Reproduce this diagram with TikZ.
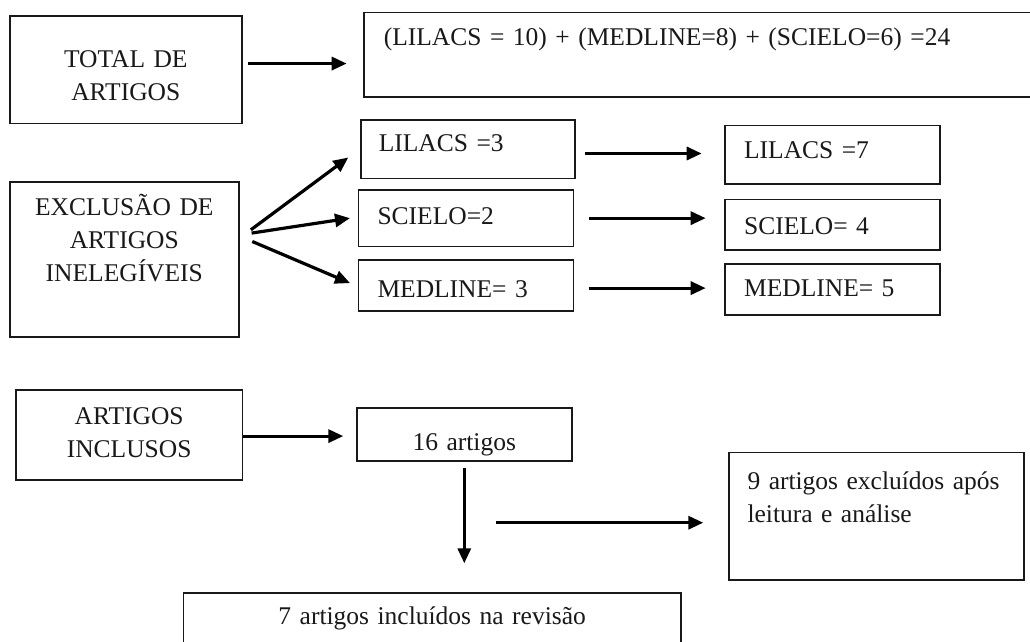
\documentclass[tikz,border=0pt]{standalone}
\usepackage{fontspec}
\setmainfont{Liberation Serif}
\usetikzlibrary{arrows.meta}
\tikzset{
  caixa/.style={draw=black!90, line width=1.6pt, inner ysep=0pt, anchor=north west, text=black!90},
  seta/.style={line width=3.2pt, -{Triangle[length=15pt,width=13pt]}}
}

\begin{document}
\begin{tikzpicture}[x=1pt, y=-1pt, font=\fontsize{25.5}{33}\selectfont]
\useasboundingbox (0,0) rectangle (1030,642);
\fill[white] (0,0) rectangle (1030,642);
\node[caixa, inner xsep=10pt, text width=212pt, text height=51.7pt, text depth=55.8pt, align=center] (total) at (9,15) {TOTAL DE\\ARTIGOS};
\node[caixa, inner xsep=20pt, text width=640pt, text height=33.3pt, text depth=51pt, align=left] (soma) at (363,11.7) {(LILACS = 10) + (MEDLINE=8) + (SCIELO=6) =24};
\node[caixa, inner xsep=10pt, text width=209pt, text height=34pt, text depth=121pt, align=center] (excl) at (9,181) {EXCLUSÃO DE\\ARTIGOS\\INELEGÍVEIS};
\node[caixa, inner xsep=18pt, text width=178pt, text height=31.7pt, text depth=27pt, align=left] (lil3) at (360,119) {LILACS =3};
\node[caixa, inner xsep=19pt, text width=177pt, text height=34.3pt, text depth=22.4pt, align=left] (sci2) at (357.7,189) {SCIELO=2};
\node[caixa, inner xsep=19pt, text width=177pt, text height=37.4pt, text depth=13.3pt, align=left] (med3) at (357.7,259.3) {MEDLINE= 3};
\node[caixa, inner xsep=19.3pt, text width=176.7pt, text height=33pt, text depth=25.6pt, align=left] (lil7) at (724,124.7) {LILACS =7};
\node[caixa, inner xsep=19.3pt, text width=176.7pt, text height=34.6pt, text depth=16pt, align=left] (sci4) at (724,198.7) {SCIELO= 4};
\node[caixa, inner xsep=19.3pt, text width=176.7pt, text height=32.4pt, text depth=18.3pt, align=left] (med5) at (724,263.3) {MEDLINE= 5};
\node[caixa, inner xsep=10pt, text width=206.7pt, text height=34.7pt, text depth=55.3pt, align=center] (incl) at (15,389.3) {ARTIGOS\\INCLUSOS};
\node[caixa, inner xsep=10pt, text width=195pt, text height=42pt, text depth=10.7pt, align=center] (dez) at (356,407.3) {16 artigos};
\node[caixa, inner xsep=18.4pt, text width=258.2pt, text height=36.6pt, text depth=90.7pt, align=left] (nove) at (728.3,451.7) {9 artigos excluídos após\\leitura e análise};
\node[caixa, inner xsep=10pt, text width=477.3pt, text height=31.7pt, text depth=48.3pt, align=center] (sete) at (182.7,592.3) {7 artigos incluídos na revisão};
\coordinate (desvio) at (496,522.7);
\draw[seta, shorten <=5.7pt, shorten >=16.3pt] ([yshift=6pt]total.east) -- ([yshift=6pt]total.east -| soma.west);
\draw[seta] ([xshift=11.3pt,yshift=29.5pt]excl.east) -- ([xshift=-11.7pt,yshift=-8.35pt]lil3.west);
\draw[seta] ([xshift=12pt,yshift=26.2pt]excl.east) -- ([xshift=-7.7pt]sci2.west);
\draw[seta] ([xshift=12.7pt,yshift=17.8pt]excl.east) -- ([xshift=-7.7pt,yshift=2.35pt]med3.west);
\draw[seta, shorten <=9.3pt, shorten >=22.3pt] ([yshift=-4.35pt]lil3.east) -- ([yshift=-4.35pt]lil3.east -| lil7.west);
\draw[seta, shorten <=14.6pt, shorten >=18.3pt] (sci2.east) -- (sci2.east -| sci4.west);
\draw[seta, shorten <=14.6pt, shorten >=18.3pt] ([yshift=-2.65pt]med3.east) -- ([yshift=-2.65pt]med3.east -| med5.west);
\draw[seta, shorten >=12.7pt] ([yshift=-1pt]incl.east) -- ([yshift=-1pt]incl.east -| dez.west);
\draw[seta, shorten <=6.7pt, shorten >=29pt] (dez.south) -- (dez.south |- sete.north);
\draw[seta, shorten >=25pt] (desvio) -- (desvio -| nove.west);
\end{tikzpicture}
\end{document}
